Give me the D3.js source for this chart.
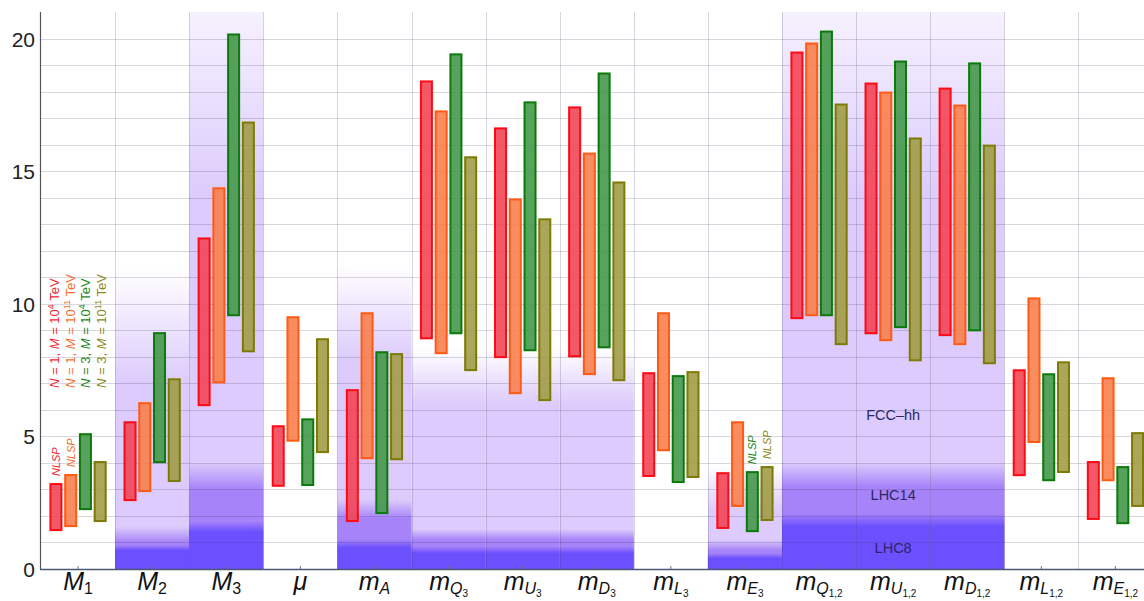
<!DOCTYPE html>
<html>
<head>
<meta charset="utf-8">
<script src="https://cdn.jsdelivr.net/npm/d3@7"></script>
<style>
body { margin: 0; background: #fff; }
svg { display: block; font-family: "Liberation Sans", Arial, sans-serif; }
</style>
</head>
<body>
<div id="chart"></div>
<script>
// categories and their axis labels (main symbol, subscript, sub-subscript)
var categories = ["M1","M2","M3","mu","mA","mQ3","mU3","mD3","mL3","mE3","mQ12","mU12","mD12","mL12","mE12"];
var labelMain = ["M","M","M","\u03bc","m","m","m","m","m","m","m","m","m","m","m"];
var labelSub = ["1","2","3","","A","Q","U","D","L","E","Q","U","D","L","E"];
var labelSubSub = ["","","","","","3","3","3","3","3","1,2","1,2","1,2","1,2","1,2"];

var series = ["N1_M1e4","N1_M1e11","N3_M1e4","N3_M1e11"];

// mass ranges (TeV), low and high end of each bar
var lowN1M4   = [1.43,2.56,6.14,3.10,1.77,8.66,7.95,7.98,3.47,1.51,9.42,8.85,8.78,3.50,1.85];
var highN1M4  = [3.24,5.57,12.5,5.42,6.78,18.42,16.65,17.44,7.42,3.65,19.51,18.34,18.15,7.53,4.07];
var lowN1M11  = [1.58,2.90,7.00,4.80,4.14,8.10,6.59,7.31,4.44,2.34,9.53,8.59,8.44,4.75,3.31];
var highN1M11 = [3.58,6.29,14.39,9.53,9.68,17.29,13.97,15.70,9.68,5.57,19.85,18.00,17.51,10.24,7.23];
var lowN3M4   = [2.22,3.99,9.53,3.13,2.07,8.85,8.21,8.32,3.24,1.39,9.53,9.08,8.96,3.31,1.69];
var highN3M4  = [5.12,8.93,20.19,5.68,8.21,19.44,17.63,18.72,7.31,3.69,20.30,19.17,19.10,7.38,3.88];
var lowN3M11  = [1.77,3.28,8.17,4.37,4.10,7.46,6.33,7.08,3.43,1.81,8.44,7.83,7.72,3.62,2.34];
var highN3M11 = [4.07,7.19,16.87,8.70,8.14,15.56,13.22,14.61,7.46,3.88,17.55,16.27,16.00,7.83,5.16];

// collider reach per category: solid up to *Solid, fading out up to *Top (0 = none)
var fccSolid   = [0,7.0,14,0,7.8,6.2,6.2,6.2,0,2.2,14,14,14,0,0];
var fccTop     = [0,11.3,23.5,0,11.5,8.3,8.3,8.3,0,3.9,23.5,23.5,23.5,0,0];
var lhc14Solid = [0,1.0,3.0,0,1.9,1.1,1.1,1.1,0,0.7,3.1,3.1,3.1,0,0];
var lhc14Top   = [0,1.6,4.0,0,2.6,1.5,1.5,1.5,0,1.1,4.0,4.0,4.0,0,0];
var lhc8Solid  = [0,0.7,1.4,0,0.8,0.6,0.6,0.6,0,0.4,1.6,1.6,1.6,0,0];
var lhc8Top    = [0,0.9,1.8,0,1.1,0.85,0.85,0.85,0,0.6,2.1,2.1,2.1,0,0];

var colliderNames = ["FCC\u2013hh", "LHC14", "LHC8"];
var colliderLabelAt = [5.8, 2.8, 0.8];

var yTicks = [0,5,10,15,20];
var gridValues = d3.range(1, 21);

// NLSP marks: category index and series index
var nlspCat = [0,0,9,9];
var nlspSeries = [0,1,2,3];

var legendN = ["1","1","3","3"];
var legendExp = ["4","11","4","11"];

var fills   = ["#f24656","#f8814f","#45984a","#a19c48"];
var strokes = ["#ff0a14","#ff5a14","#0b7a0b","#7d7a05"];
var textCol = ["#f02a30","#f5702e","#1c861c","#8c8a22"];

var lows = [lowN1M4, lowN1M11, lowN3M4, lowN3M11];
var highs = [highN1M4, highN1M11, highN3M4, highN3M11];

var W = 1144, H = 601;
var svg = d3.select("#chart").append("svg").attr("width", W).attr("height", H);
var defs = svg.append("defs");

var yMax = 21;
var x = d3.scaleBand().domain(categories).range([41, 1152.5]).padding(0);
var xs = d3.scaleBand().domain(series).range([-29.5, 29.5]).paddingInner(0.186).paddingOuter(0.093);
var y = d3.scaleLinear().domain([0, yMax]).range([569, 12]);

// collider shading layers
var layers = [
  {name: "fcc", solid: fccSolid, top: fccTop, color: "#dccbfc"},
  {name: "lhc14", solid: lhc14Solid, top: lhc14Top, color: "#a683f9"},
  {name: "lhc8", solid: lhc8Solid, top: lhc8Top, color: "#6c50fd"}
];
var shade = svg.append("g");
layers.forEach(function(L) {
  categories.forEach(function(c, i) {
    if (!L.top[i]) return;
    var id = "g_" + L.name + "_" + i;
    var g = defs.append("linearGradient").attr("id", id)
      .attr("gradientUnits", "userSpaceOnUse")
      .attr("x1", 0).attr("x2", 0)
      .attr("y1", y(L.solid[i])).attr("y2", y(L.top[i]));
    g.append("stop").attr("offset", 0).attr("stop-color", L.color).attr("stop-opacity", 1);
    g.append("stop").attr("offset", 1).attr("stop-color", L.color).attr("stop-opacity", 0);
    var top = Math.min(L.top[i], yMax);
    shade.append("rect")
      .attr("x", x(c)).attr("width", x.bandwidth())
      .attr("y", y(top)).attr("height", y(0) - y(top))
      .attr("fill", "url(#" + id + ")");
  });
});

// grid
var grid = svg.append("g").attr("stroke", "rgba(60,50,90,0.2)").attr("stroke-width", 1);
grid.selectAll("line.h").data(gridValues).enter().append("line")
  .attr("x1", 41).attr("x2", 1152.5)
  .attr("y1", function(d){ return Math.round(y(d)) + 0.5; })
  .attr("y2", function(d){ return Math.round(y(d)) + 0.5; });
grid.selectAll("line.v").data(categories.slice(1)).enter().append("line")
  .attr("x1", function(d){ return Math.round(x(d)) + 0.5; })
  .attr("x2", function(d){ return Math.round(x(d)) + 0.5; })
  .attr("y1", 12).attr("y2", 569);

// collider labels
svg.selectAll("text.col").data(colliderNames).enter().append("text")
  .attr("x", x("mU12") + x.bandwidth() / 2)
  .attr("y", function(d, i){ return y(colliderLabelAt[i]) + 5; })
  .attr("text-anchor", "middle")
  .attr("font-size", 14.5).attr("fill", "#2a2766")
  .text(function(d){ return d; });

// bars
series.forEach(function(s, k) {
  svg.append("g").selectAll("rect").data(categories).enter().append("rect")
    .attr("x", function(d){ return x(d) + x.bandwidth() / 2 + xs(s) + 0.5; })
    .attr("width", xs.bandwidth() - 1)
    .attr("y", function(d, i){ return y(highs[k][i]) + 1; })
    .attr("height", function(d, i){ return y(lows[k][i]) - y(highs[k][i]) - 2; })
    .attr("fill", fills[k]).attr("fill-opacity", 0.9)
    .attr("stroke", strokes[k]).attr("stroke-width", 2);
});

// NLSP labels
nlspCat.forEach(function(ci, j) {
  var k = nlspSeries[j];
  var cx = x(categories[ci]) + x.bandwidth() / 2 + xs(series[k]) + xs.bandwidth() / 2;
  svg.append("text")
    .attr("transform", "translate(" + (cx + 4) + "," + (y(highs[k][ci]) - 7) + ") rotate(-90)")
    .attr("font-size", 11).attr("font-style", "italic")
    .attr("fill", textCol[k]).text("NLSP");
});

// legend (rotated)
series.forEach(function(s, k) {
  var t = svg.append("text")
    .attr("transform", "translate(" + (59 + k * 15.5) + ",388) rotate(-90)")
    .attr("font-size", 13).attr("fill", textCol[k]);
  t.append("tspan").attr("font-style", "italic").text("N");
  t.append("tspan").text(" = " + legendN[k] + ", ");
  t.append("tspan").attr("font-style", "italic").text("M");
  t.append("tspan").text(" = 10");
  t.append("tspan").attr("font-size", 9).attr("dy", -5).text(legendExp[k]);
  t.append("tspan").attr("dy", 5).text(" TeV");
});

// axes
svg.append("line").attr("x1", 40.5).attr("x2", 40.5).attr("y1", 12).attr("y2", 569)
  .attr("stroke", "#555").attr("stroke-width", 1.2);
svg.append("line").attr("x1", 40).attr("x2", 1144).attr("y1", 569.5).attr("y2", 569.5)
  .attr("stroke", "#4d5677").attr("stroke-width", 1.3);
svg.append("g").selectAll("line").data(categories).enter().append("line")
  .attr("x1", function(d){ return x(d) + x.bandwidth() / 2; })
  .attr("x2", function(d){ return x(d) + x.bandwidth() / 2; })
  .attr("y1", 566).attr("y2", 569).attr("stroke", "#6a7090");

svg.append("g").selectAll("text").data(yTicks).enter().append("text")
  .attr("x", 35).attr("y", function(d){ return y(d) + 8; })
  .attr("text-anchor", "end").attr("font-size", 21).attr("fill", "#222")
  .text(function(d){ return d; });

// category labels
var xl = svg.append("g");
categories.forEach(function(c, i) {
  var t = xl.append("text")
    .attr("x", x(c) + x.bandwidth() / 2).attr("y", 590)
    .attr("text-anchor", "middle").attr("fill", "#111");
  t.append("tspan").attr("font-size", 25).attr("font-style", "italic").text(labelMain[i]);
  if (labelSub[i]) {
    var num = /^[0-9]/.test(labelSub[i]);
    t.append("tspan").attr("font-size", 16).attr("dy", 4)
      .attr("font-style", num ? "normal" : "italic").text(labelSub[i]);
  }
  if (labelSubSub[i]) {
    t.append("tspan").attr("font-size", 10).attr("dy", 3).text(labelSubSub[i]);
  }
});
</script>
</body>
</html>
